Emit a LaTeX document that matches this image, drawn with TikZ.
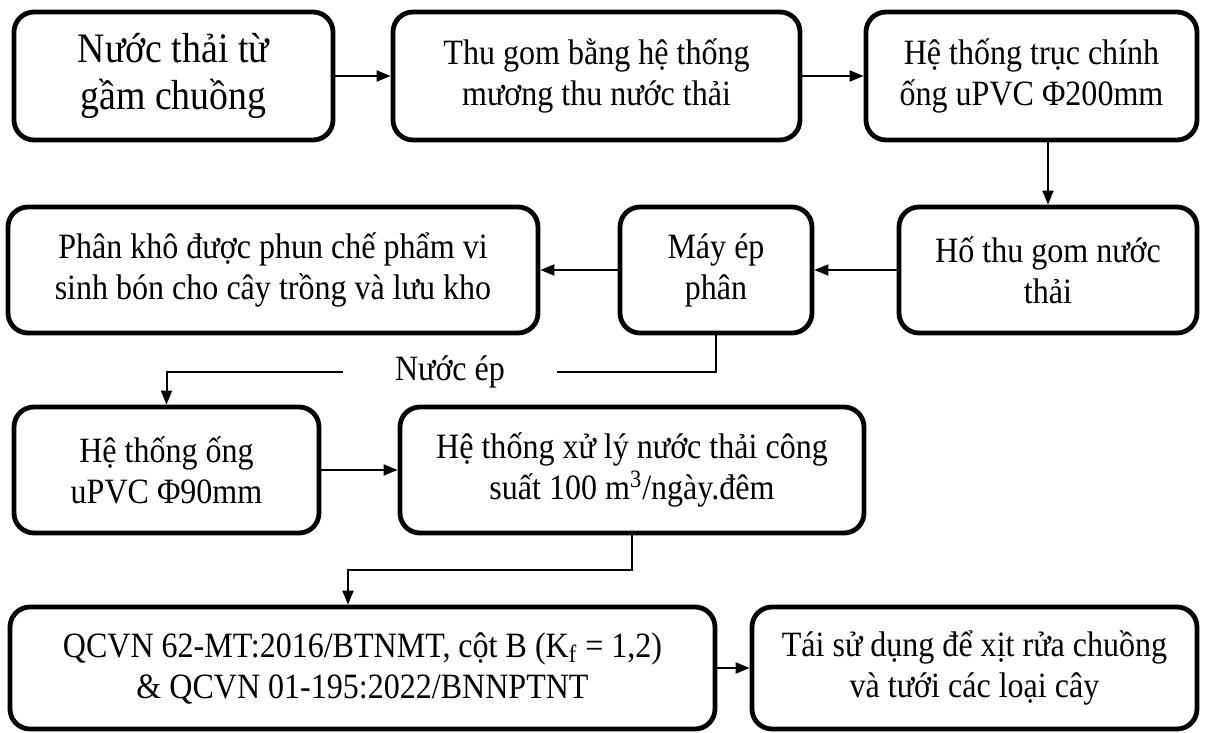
\documentclass[tikz,border=0pt]{standalone}
\usepackage{fontspec}
\setmainfont[FakeStretch=0.9]{Liberation Serif}
\usetikzlibrary{arrows.meta}

\begin{document}
\begin{tikzpicture}[x=0.5pt,y=-0.5pt,
  box/.style={draw,line width=2.4pt,rounded corners=10pt,align=center,inner sep=0pt,
    font=\fontsize{17.8}{20.5}\selectfont},
  link/.style={line width=1pt,-{Triangle[length=7pt,width=5.5pt]}}]
\useasboundingbox (0,0) rectangle (1207,733);

% first row
\node[box,minimum width=159.5pt,minimum height=64pt,font=\fontsize{21}{23.5}\selectfont] (thai) at (173.5,76) {Nước thải từ\\gầm chuồng};
\node[box,minimum width=203.5pt,minimum height=64pt] (muong) at (596.5,76) {Thu gom bằng hệ thống\\mương thu nước thải};
\node[box,minimum width=165.5pt,minimum height=64pt] (truc) at (1031.5,76) {Hệ thống trục chính\\ống uPVC Φ200mm};

% second row
\node[box,minimum width=149pt,minimum height=63pt] (ho) at (1048,270) {Hố thu gom nước\\thải};
\node[box,minimum width=96pt,minimum height=63pt] (may) at (716,270) {Máy ép\\phân};
\node[box,minimum width=265pt,minimum height=63pt] (kho) at (273,270) {Phân khô được phun chế phẩm vi\\sinh bón cho cây trồng và lưu kho};

% pressed water label
\node[font=\fontsize{17.8}{20.5}\selectfont,inner sep=0pt,minimum width=107pt] (ep) at (450,372) {Nước ép};

% third row
\node[box,minimum width=152.5pt,minimum height=63pt] (ong) at (166.5,470) {Hệ thống ống\\uPVC Φ90mm};
\node[box,minimum width=232pt,minimum height=63pt] (xuly) at (632,470) {Hệ thống xử lý nước thải công\\suất 100 m\textsuperscript{3}/ngày.đêm};

% last row
\node[box,minimum width=352.5pt,minimum height=61pt] (qcvn) at (362.5,668) {QCVN 62-MT:2016/BTNMT, cột B (K\textsubscript{f} = 1,2)\\\& QCVN 01-195:2022/BNNPTNT};
\node[box,minimum width=222.5pt,minimum height=61pt] (taisd) at (974.5,668) {Tái sử dụng để xịt rửa chuồng\\và tưới các loại cây};

\coordinate (gap) at (348,570);

\draw[link] (thai) -- (muong);
\draw[link] (muong) -- (truc);
\draw[link] (truc.south -| ho.north) -- (ho.north);
\draw[link] (ho) -- (may);
\draw[link] (may) -- (kho);
\draw[line width=1pt] (may.south) |- (ep.east);
\draw[link] (ep.west) -| (ong.north);
\draw[link] (ong) -- (xuly);
\draw[link] (xuly.south) |- (gap) -- (gap |- qcvn.north);
\draw[link] (qcvn.east |- taisd.west) -- (taisd.west);

\end{tikzpicture}
\end{document}
